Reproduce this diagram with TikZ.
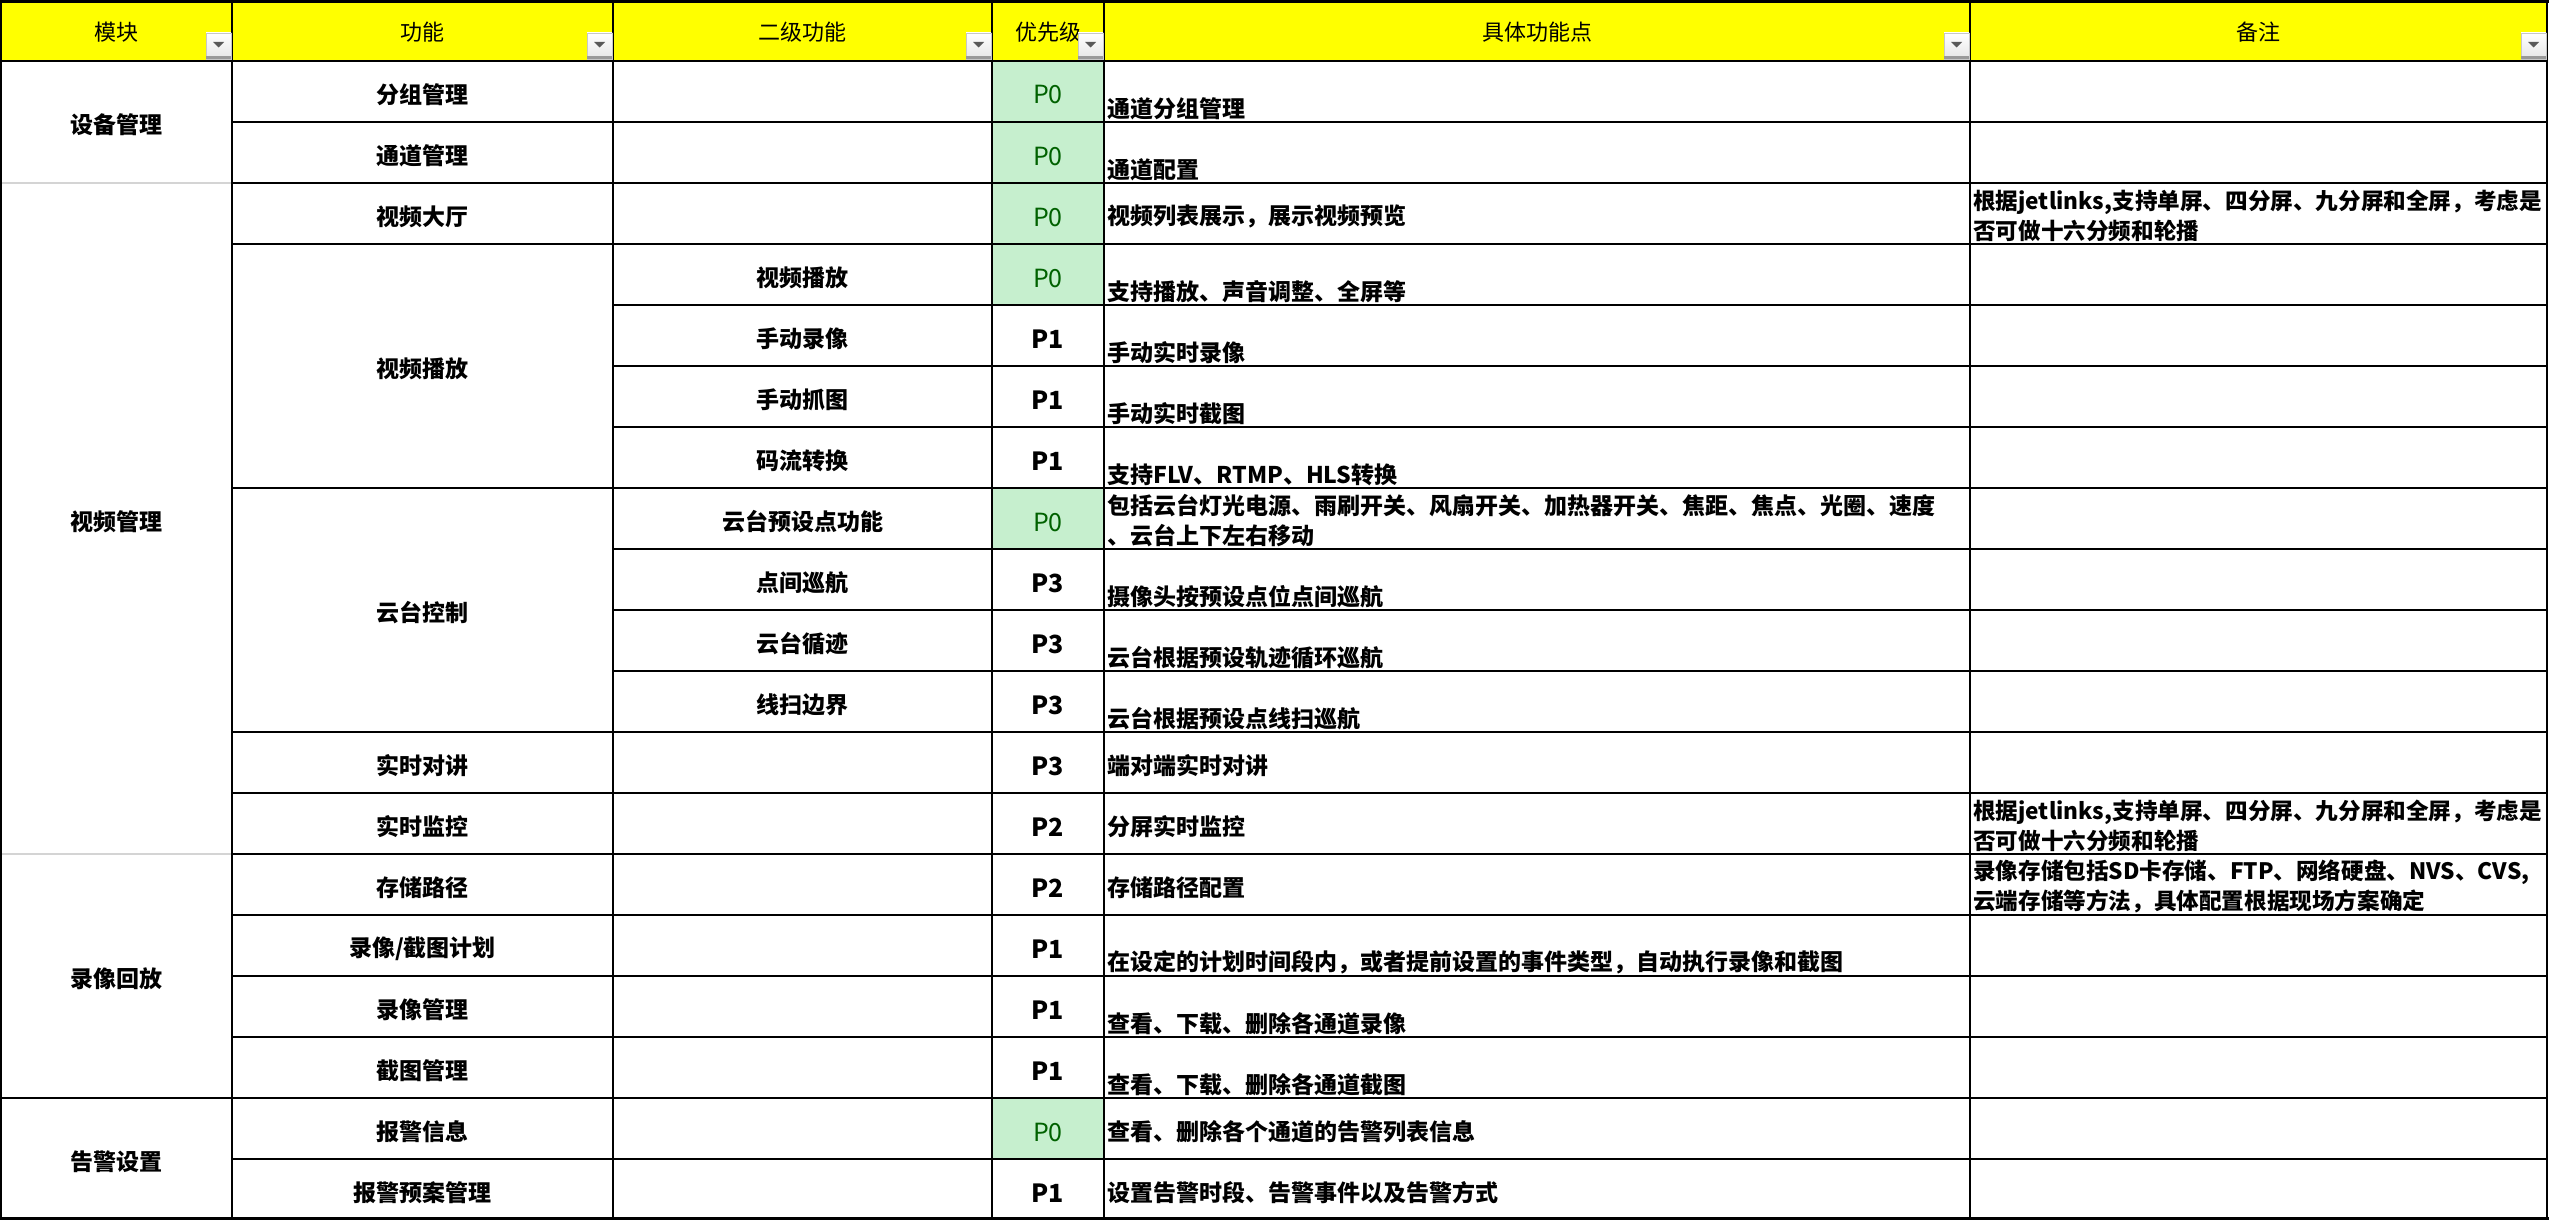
\documentclass[tikz,border=0pt]{standalone}
\usepackage{fontspec}
\newfontfamily\cjk{Noto Sans CJK SC}
\begin{document}
\begin{tikzpicture}[x=1pt,y=-1pt]
%% Colors
\definecolor{headCol}{HTML}{FFFF00}
\definecolor{goodFill}{HTML}{C6EFCE}
\definecolor{goodText}{HTML}{006100}
\colorlet{gridGray}{black!17}
%% Cell texts and rules
\tikzset{
cell/.style={font=\cjk\bfseries\fontsize{23}{30}\selectfont, inner sep=0pt},
head/.style={font=\cjk\fontsize{22}{26}\selectfont, inner sep=0pt},
prio/.style={font=\cjk\bfseries\fontsize{25}{30}\selectfont, inner sep=0pt},
good/.style={font=\cjk\fontsize{25}{30}\selectfont, inner sep=0pt, text=goodText},
pointb/.style={cell, anchor=south west},
pointc/.style={cell, anchor=west},
pointm/.style={cell, align=left, anchor=south west},
note/.style={cell, font=\cjk\bfseries\fontsize{22.6}{30}\selectfont, align=left, anchor=south west},
thickrule/.style={line width=2.2pt},
thinrule/.style={line width=1.1pt}
}
%% Filter button
\tikzset{filter/.pic = {
\path[draw=black!22, top color=white, bottom color=black!10] (-26,33) rectangle (-1,59);
\path[fill=black!40] (-26,56.5) rectangle (-1,59);
\path[fill=black!65] (-19,42) -- (-8,42) -- (-13.5,47.5) -- cycle;
}
}

\useasboundingbox (0,0) rectangle (2549,1220);
\path[fill=white] (0,0) rectangle (2549,1220);

% Header and green cells
\path[fill=headCol] (0,0) rectangle (2547,61);
\foreach \r in {1,2,3,4,8,18}
\path[fill=goodFill] (992,{61*\r}) rectangle (1104,{61*\r+61});

% Rules
\foreach \y/\a in {61/0, 244/232, 305/613, 366/613, 427/613, 488/232, 732/232, 793/232, 854/232, 915/232, 976/232}
\path[draw,thickrule] (\a,\y) -- (2547,\y);
\foreach \y/\a in {122/232, 183/232, 549/613, 610/613, 671/613, 1037/232, 1098/0, 1159/232}
\path[draw,thinrule] (\a,\y) -- (2547,\y);
\foreach \y in {183,854}
\path[draw=gridGray,thinrule] (0,\y) -- (232,\y);
\foreach \x in {1,232,992,1104,1970,2547}
\path[draw,line width=1.8pt] (\x,0) -- (\x,1220);
\path[draw,thinrule] (613,0) -- (613,1220);
\path[draw,line width=3pt] (0,1.5) -- (2548.5,1.5);
\path[draw,line width=2.4pt] (0,1218.5) -- (2548.5,1218.5);

% Header texts
\foreach \l/\r/\t [count=\i] in {0/232/模块, 232/613/功能, 613/992/二级功能, 992/1104/优先级, 1104/1970/具体功能点, 1970/2547/备注}{
\node[head] (h\i) at ({(\l+\r)/2},32) {\t};
\path (\r,0) pic {filter};
}

% Modules
\foreach \y/\t [count=\i] in {122/设备管理, 518.5/视频管理, 976/录像回放, 1159/告警设置}
\node[cell] (m\i) at (116,\y+3) {\t};

% Functions
\foreach \r/\t [count=\i] in {1/分组管理, 2/通道管理, 3/视频大厅, 5.5/视频播放, 9.5/云台控制, 12/实时对讲, 13/实时监控, 14/存储路径, 15/{录像/截图计划}, 16/录像管理, 17/截图管理, 18/报警信息, 19/报警预案管理}
\node[cell] (f\i) at (422.5,{61*\r+33.5}) {\t};

% Sub functions
\foreach \r/\t in {4/视频播放, 5/手动录像, 6/手动抓图, 7/码流转换, 8/云台预设点功能, 9/点间巡航, 10/云台循迹, 11/线扫边界}
\node[cell] (s\r) at (802.5,{61*\r+33.5}) {\t};

% Priorities
\foreach \p/\s [count=\r] in {0/good, 0/good, 0/good, 0/good, 1/prio, 1/prio, 1/prio, 0/good, 3/prio, 3/prio, 3/prio, 3/prio, 2/prio, 2/prio, 1/prio, 1/prio, 1/prio, 0/good, 1/prio}
\node[\s] (p\r) at (1048,{61*\r+34}) {P\p};

% Function points
\foreach \r/\t in {1/通道分组管理, 2/通道配置, 4/支持播放、声音调整、全屏等, 5/手动实时录像, 6/手动实时截图, 7/支持FLV、RTMP、HLS转换, 9/摄像头按预设点位点间巡航, 10/云台根据预设轨迹循环巡航, 11/云台根据预设点线扫巡航, 15/在设定的计划时间段内，或者提前设置的事件类型，自动执行录像和截图, 16/查看、下载、删除各通道录像, 17/查看、下载、删除各通道截图}
\node[pointb] (pt\r) at (1107,{61*\r+59}) {\t};
\foreach \r/\t in {3/视频列表展示，展示视频预览, 12/端对端实时对讲, 13/分屏实时监控, 14/存储路径配置, 18/查看、删除各个通道的告警列表信息, 19/设置告警时段、告警事件以及告警方式}
\node[pointc] (pt\r) at (1107,{61*\r+33.5}) {\t};
\node[pointm] (pt8) at (1107,{61*8+59}) {包括云台灯光电源、雨刷开关、风扇开关、加热器开关、焦距、焦点、光圈、速度\\、云台上下左右移动};

% Notes
\node[note] (n3) at (1973,{61*3+59}) {根据jetlinks,支持单屏、四分屏、九分屏和全屏，考虑是\\否可做十六分频和轮播};
\node[note] (n13) at (1973,{61*13+59}) {根据jetlinks,支持单屏、四分屏、九分屏和全屏，考虑是\\否可做十六分频和轮播};
\node[note] (n14) at (1973,{61*14+59}) {录像存储包括SD卡存储、FTP、网络硬盘、NVS、CVS,\\云端存储等方法，具体配置根据现场方案确定};

\end{tikzpicture}
\end{document}
